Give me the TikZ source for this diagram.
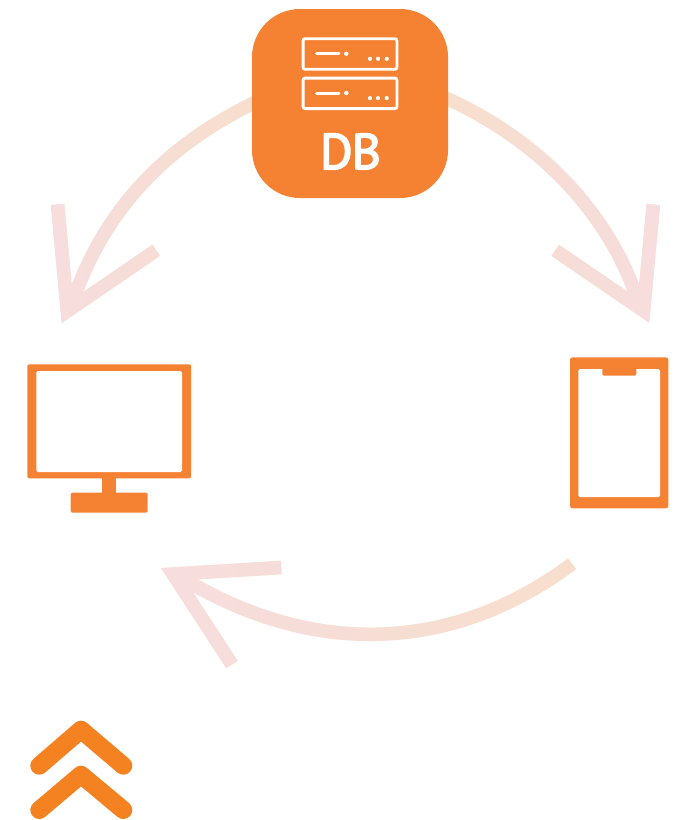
\documentclass[tikz,border=0pt]{standalone}
\usepackage{fontspec}
\setmainfont{PT Sans}
\newfontfamily\dbfont[FakeBold=3]{PT Sans}
\usetikzlibrary{fadings,backgrounds,calc}
\definecolor{brand}{HTML}{F58132}
\definecolor{chev}{HTML}{F58220}
\definecolor{peach}{HTML}{F8DFCC}
\definecolor{pinkish}{HTML}{F7DDDE}
\tikzfading[name=opaqueleft,left color=transparent!0,right color=transparent!100]
\tikzfading[name=opaqueright,left color=transparent!100,right color=transparent!0]
\tikzset{
  flowbase/.style={draw=peach,line width=13.5pt,miter limit=20,line join=miter},
  flowtop/.style={draw=pinkish,line width=13.5pt,miter limit=20,line join=miter},
  panel/.style={fill=brand,draw=none,rounded corners=#1,inner sep=0pt,outer sep=0pt},
  screen/.style={fill=white,draw=none,rounded corners=1.5pt,inner sep=0pt,outer sep=0pt},
  rack/.style={draw=white,line width=2.8pt,rounded corners=2pt},
  lamp/.style={draw=white,line width=3pt,line cap=round},
  chevron/.style={draw=chev,line width=18pt,line cap=round,line join=round}
}
\newcommand{\flowarrow}[2]{\draw[flowbase] #2;\draw[flowtop,path fading=#1] #2;}
\begin{document}
\begin{tikzpicture}[x=1pt,y=-1pt]
\useasboundingbox (0,0) rectangle (683,820);

% database panel
\node[panel=48pt,minimum width=196pt,minimum height=189pt] (db) at (350,103.5) {};
\draw[rack] (303.1,38.7) rectangle (396.9,69.3);
\draw[rack] (303.1,78.1) rectangle (396.9,108.6);
\foreach \yy in {53.7,93}{
  \draw[lamp] (316.5,\yy) -- (339,\yy);
  \fill[white] (346.3,\yy) circle (2.2pt);
  \foreach \xx in {370,378,386.7}{\fill[white] (\xx,\yy+5.1) circle (2.1pt);}
}
\node[text=white,font=\dbfont\fontsize{50}{50}\selectfont,inner sep=0pt] (dblabel) at (350.5,151.5) {D\kern-1ptB};

% monitor
\node[panel=2pt,minimum width=163.7pt,minimum height=114pt] (monitor) at (109.15,421.3) {};
\node[screen,minimum width=145.7pt,minimum height=101pt] (monitorscreen) at (109.15,421.5) {};
\node[panel=2pt,minimum width=77pt,minimum height=20pt] (monitorbase) at (109.2,502.7) {};
\fill[brand] (102.3,477) rectangle (116,494);

% tablet
\node[panel=2.5pt,minimum width=98.3pt,minimum height=151pt] (tablet) at (619.15,432.8) {};
\node[screen,minimum width=81.7pt,minimum height=128pt] (tabletscreen) at (619.15,433) {};
\fill[brand,rounded corners=2pt] (602.3,367) -- (636.3,367) -- (636.3,375.7) -- (602.3,375.7) -- cycle;

% flows
\coordinate (tipL) at (67.35,311);
\coordinate (barbLa) at (57.6,204.5);
\coordinate (barbLb) at (156.2,250.3);
\coordinate (tipR) at (643.5,310.6);
\coordinate (barbRa) at (653.3,204.5);
\coordinate (barbRb) at (555.2,250.3);
\coordinate (tipB) at (173.1,574.1);
\coordinate (barbBa) at (281.3,567.5);
\coordinate (barbBb) at (232,664.5);
\coordinate (startB) at (572.2,563.7);
\begin{scope}[on background layer]
\flowarrow{opaqueleft}{([shift={(8,-3.6)}]db.west) .. controls (169.85,142.7) and (110.5,203.3) .. (77.5,288.3) -- (tipL) (barbLa) -- (tipL) -- (barbLb)}
\flowarrow{opaqueright}{([shift={(-8,-8)}]db.east) .. controls (531,134.7) and (601.8,204) .. (633.8,289.2) -- (tipR) (barbRa) -- (tipR) -- (barbRb)}
\flowarrow{opaqueleft}{(startB) .. controls (456,650.7) and (321,656.5) .. (195,585.5) -- (tipB) (barbBa) -- (tipB) -- (barbBb)}
\end{scope}

% chevrons
\draw[chevron] (39.3,765.7) -- (81,729.7) -- (123.3,765.7);
\draw[chevron] (39.3,810) -- (81,774.7) -- (123.3,810);
\end{tikzpicture}
\end{document}
